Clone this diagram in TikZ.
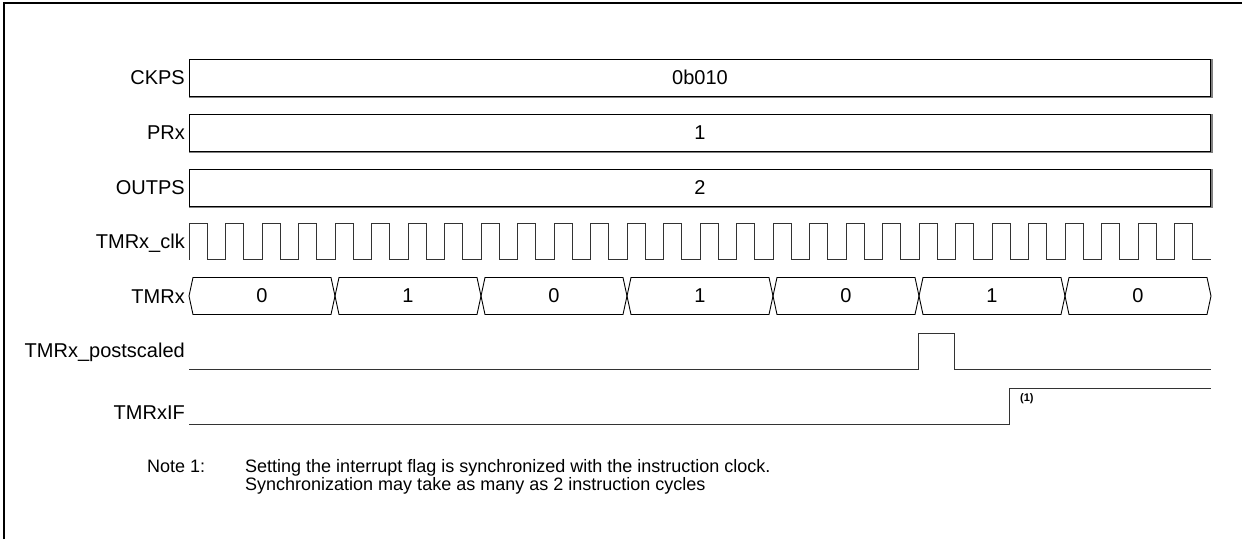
\documentclass[tikz,border=0pt]{standalone}
\usepackage{fontspec}
\setmainfont{Liberation Sans}
\newcommand\lblfont{\fontsize{20}{24}\selectfont}
\newcommand\notefont{\fontsize{18}{21}\selectfont}
\begin{document}
\begin{tikzpicture}[x=1pt,y=-1pt,
  lbl/.style={anchor=base east, inner sep=0pt, font=\lblfont},
  regbox/.style={draw=black, line width=0.9pt, minimum width=1021pt, minimum height=36.5pt, inner sep=0pt, font=\lblfont, anchor=north west},
  boxshadow/.style={draw=black!50, line width=1.4pt},
  wave/.style={draw=black!80, line width=1pt},
  bus/.style={draw=black, line width=0.9pt},
  val/.style={font=\lblfont, inner sep=0pt},
  notetxt/.style={anchor=base west, inner sep=0pt, font=\notefont}
]
\useasboundingbox (0,0) rectangle (1242,539);
% frame
\draw[line width=2.7pt] (4,539) -- (4,3) -- (1242,3);

% register boxes
\foreach \n/\y/\v/\l in {ckps/59/0b010/CKPS, prx/114/1/PRx, outps/169/2/OUTPS}{
  \node[regbox] (\n) at (189,\y) {\v};
  \draw[boxshadow] ([yshift=-1pt]\n.south west) -- ([xshift=1pt,yshift=-1pt]\n.south east) -- ([xshift=1pt]\n.north east);
  \node[lbl] (l\n) at (185,{\y+25}) {\l};
}

% labels
\node[lbl] (lclk) at (185,248) {TMRx\_clk};
\node[lbl] (ltmr) at (185,303) {TMRx};
\node[lbl] (lpost) at (185,357) {TMRx\_postscaled};
\node[lbl] (lif) at (185,419) {TMRxIF};

% clock
\draw[wave] (189,259.5) \foreach \i in {0,...,27}{
  -- ({189+36.5*\i},223.5) -- ({207.25+36.5*\i},223.5)
  -- ({207.25+36.5*\i},259.5) -- ({225.5+36.5*\i},259.5) };

% TMRx bus
\foreach \i/\v in {0/0,1/1,2/0,3/1,4/0,5/1,6/0}{
  \pgfmathsetmacro\xa{189+146*\i}
  \pgfmathsetmacro\xb{\xa+146}
  \draw[bus] (\xa,296) -- ({\xa+4},277.5) -- ({\xb-4},277.5) -- (\xb,296)
    -- ({\xb-4},314.5) -- ({\xa+4},314.5) -- cycle;
  \node[val] (seg\i) at ({(\xa+\xb)/2},296) {\v};
}

% postscaled
\draw[wave] (189,369) -- (918,369) -- (918,333) -- (954.5,333) -- (954.5,369) -- (1211,369);

% TMRxIF
\draw[wave] (189,424) -- (1009.25,424) -- (1009.25,388) -- (1211,388);
\node[anchor=base west, inner sep=0pt, font=\bfseries\fontsize{11}{13}\selectfont] (fn) at (1020,401) {(1)};

% note
\node[notetxt] (note) at (147,472) {Note 1:};
\node[notetxt] (note1) at (245,472) {Setting the interrupt flag is synchronized with the instruction clock.};
\node[notetxt] (note2) at (245,490) {Synchronization may take as many as 2 instruction cycles};
\end{tikzpicture}
\end{document}
